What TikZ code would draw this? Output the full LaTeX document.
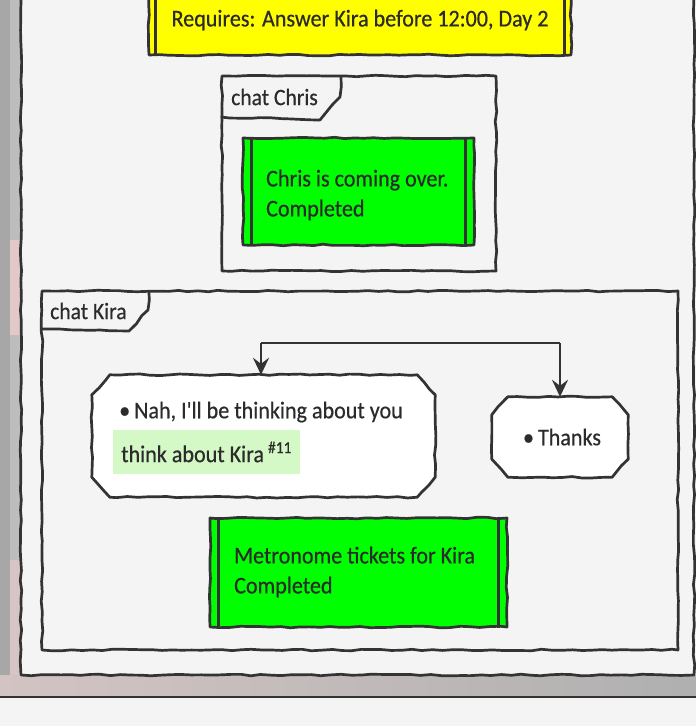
\documentclass[tikz,border=0pt]{standalone}
\usepackage{fontspec}
\setmainfont[FakeStretch=0.92, FakeBold=0.5, Ligatures=TeXOff]{Carlito}
\usetikzlibrary{arrows.meta,decorations.pathmorphing}
\definecolor{ink}{HTML}{333333}
\definecolor{txtc}{HTML}{2B2B2B}
\definecolor{bgc}{HTML}{F4F4F4}
\definecolor{grn}{HTML}{00FF00}
\definecolor{ylw}{HTML}{FFFF00}
\definecolor{hl}{HTML}{D4F8C6}
\definecolor{stripA}{HTML}{A7A7A7}
\definecolor{stripB}{HTML}{BDBDBD}
\definecolor{pinkish}{HTML}{E2C8C8}
\newcommand\chamfbox[3]{%
  \draw[sk, fill=white] ([xshift=#2]#1.north west) -- ([xshift=-#2]#1.north east)
    -- ([yshift=-#3]#1.north east) -- ([yshift=#3]#1.south east)
    -- ([xshift=-#2]#1.south east) -- ([xshift=#2]#1.south west)
    -- ([yshift=#3]#1.south west) -- ([yshift=-#3]#1.north west) -- cycle;}
\begin{document}
\begin{tikzpicture}[x=1pt,y=-1pt,
  sk/.style={draw=ink, line width=2.7pt, line join=round, decorate,
    decoration={random steps, segment length=10pt, amplitude=0.8pt}},
  plain/.style={draw=ink, line width=2.7pt, line join=round},
  framebox/.style={sk, fill=bgc, rectangle, inner sep=0pt},
  greenbox/.style={sk, fill=grn, rectangle, inner sep=0pt},
  bubble/.style={rectangle, inner sep=0pt},
  txt/.style={text=txtc, inner sep=0pt, font=\fontsize{24}{30}\selectfont, align=left},
  tabtxt/.style={text=txtc, inner sep=0pt, font=\fontsize{23.5}{26}\selectfont},
  arr/.style={plain, -{Stealth[length=17pt, width=16pt, inset=6pt]}}
]
\pgfmathsetseed{11}
\useasboundingbox (0,0) rectangle (696,726);
% screen background
\fill[bgc] (0,0) rectangle (696,726);
\fill[stripA] (0,0) rectangle (10,697);
\fill[stripB] (10,0) rectangle (22,697);
\fill[pinkish] (10,240) rectangle (22,335);
\fill[pinkish!70!stripB] (10,560) rectangle (22,690);
\shade[left color=pinkish!60!stripB, right color=stripA!90!white] (0,675) rectangle (696,697);
\draw[plain] (0,697) -- (696,697);
% outer frame
\draw[sk, fill=bgc] (21,-10) -- (21,675) -- (694,675) -- (694,-10);
% yellow requirement box
\node[greenbox, fill=ylw, minimum width=422pt, minimum height=70pt] (req) at (360,20) {};
\draw[plain] ([xshift=8pt]req.north west) -- ([xshift=8pt]req.south west);
\draw[plain] ([xshift=-8pt]req.north east) -- ([xshift=-8pt]req.south east);
\node[txt] (reqt) at (360,20) {Requires: Answer Kira before 12:00, Day 2};
% chat Chris frame
\node[framebox, minimum width=274pt, minimum height=195pt] (chris) at (359,173.5) {};
\draw[sk] (chris.north west |- 0,117) -- (320,120) -- (340,97) -- (341,77);
\node[tabtxt, anchor=west] (christab) at (231,97) {chat Chris};
\node[greenbox, minimum width=231pt, minimum height=107pt] (chrisg) at (358.5,191.5) {};
\draw[plain] ([xshift=10pt]chrisg.north west) -- ([xshift=10pt]chrisg.south west);
\draw[plain] ([xshift=-10pt]chrisg.north east) -- ([xshift=-10pt]chrisg.south east);
\node[txt, anchor=west] (christ) at (266,195) {Chris is coming over.\\Completed};
% chat Kira frame
\node[framebox, minimum width=636pt, minimum height=359pt] (kira) at (360,470.5) {};
\draw[sk] (kira.north west |- 0,329) -- (129,331) -- (148,310) -- (149,292);
\node[tabtxt, anchor=west] (kiratab) at (50,311) {chat Kira};
% bubbles
\node[bubble, minimum width=343pt, minimum height=122pt] (nah) at (263.5,436) {};
\chamfbox{nah}{18pt}{20pt}
\node[txt, anchor=west] (naht) at (119,412) {\textbullet\,Nah, I'll be thinking about you};
\node[fill=hl, anchor=west, inner xsep=8pt, inner ysep=12pt, text=txtc,
  font=\fontsize{24}{30}\selectfont] (hint) at (113,452)
  {think about Kira\,\textsuperscript{\#11}};
\node[bubble, minimum width=136pt, minimum height=80pt] (thanks) at (560,437) {};
\chamfbox{thanks}{16pt}{18pt}
\node[txt] (thankst) at (562,437) {\textbullet\,Thanks};
% fork arrows
\coordinate (forkL) at (261,343);
\coordinate (forkR) at (560,343);
\draw[plain] (forkL) -- (forkR);
\draw[arr] (forkL) -- (forkL |- nah.north);
\draw[arr] (forkR) -- (thanks.north);
% metronome box
\node[greenbox, minimum width=297pt, minimum height=109pt] (metro) at (358.5,572.5) {};
\draw[plain] ([xshift=10pt]metro.north west) -- ([xshift=10pt]metro.south west);
\draw[plain] ([xshift=-10pt]metro.north east) -- ([xshift=-10pt]metro.south east);
\node[txt, anchor=west] (metrot) at (234,572) {Metronome tickets for Kira\\Completed};
\end{tikzpicture}
\end{document}
